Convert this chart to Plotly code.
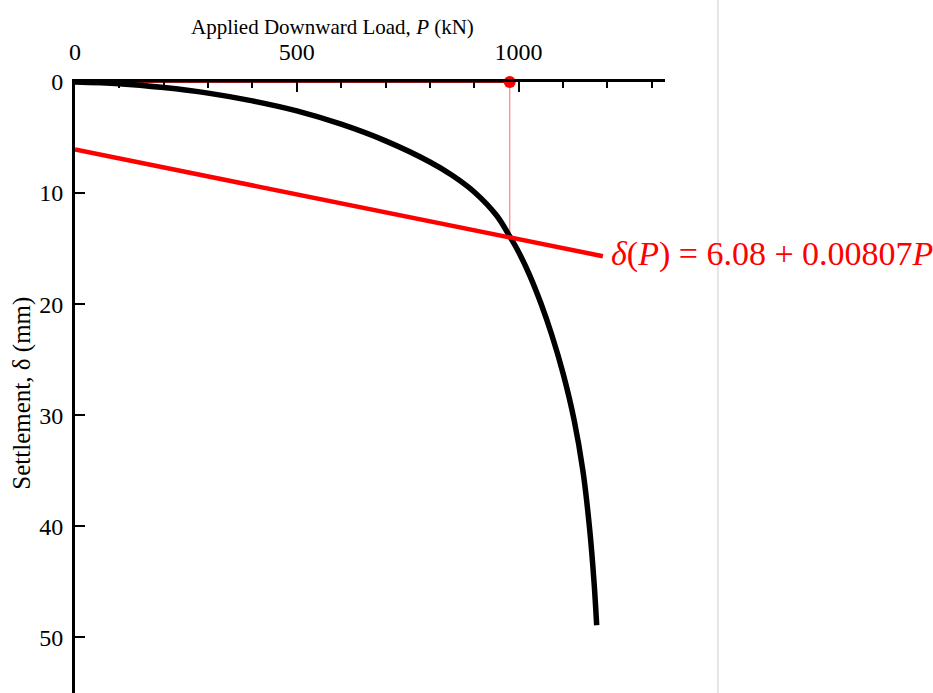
import plotly.graph_objects as go

# Load-settlement curve
load_kN = [0, 100, 200, 300, 400, 500, 600, 700, 800, 850, 900, 950, 980, 1000, 1025, 1050, 1075, 1100, 1125, 1145, 1160, 1170, 1176]
settlement_mm = [0, 0.15, 0.5, 1.0, 1.7, 2.6, 3.8, 5.3, 7.2, 8.4, 9.9, 12.0, 13.9, 15.3, 17.4, 19.9, 22.8, 26.2, 30.4, 35.0, 40.2, 45.0, 48.9]

# Fitted line delta(P) = 6.08 + 0.00807 P
fit_intercept = 6.08
fit_slope = 0.00807
fit_load = [0, 1190]
fit_settlement = [fit_intercept + fit_slope * p for p in fit_load]

# Marked load
marked_load = 980
marked_settlement = fit_intercept + fit_slope * marked_load

x_ticks = [0, 500, 1000]
y_ticks = [0, 10, 20, 30, 40, 50]

serif = "Liberation Serif"

fig = go.Figure()

# dark red line along top axis up to the marked load
fig.add_trace(go.Scatter(x=[0, marked_load], y=[0, 0], mode="lines",
                         line=dict(color="#8b1a1a", width=2), hoverinfo="skip",
                         cliponaxis=False))
# vertical thin red line
fig.add_trace(go.Scatter(x=[marked_load, marked_load], y=[0, marked_settlement], mode="lines",
                         line=dict(color="#ff8080", width=1.2), hoverinfo="skip"))
# load-settlement curve
fig.add_trace(go.Scatter(x=load_kN, y=settlement_mm, mode="lines",
                         line=dict(color="black", width=5.5, shape="spline", smoothing=1)))
# fitted red line
fig.add_trace(go.Scatter(x=fit_load, y=fit_settlement, mode="lines",
                         line=dict(color="#ff0000", width=4.5), cliponaxis=False))
# red dot
fig.add_trace(go.Scatter(x=[marked_load], y=[0], mode="markers",
                         marker=dict(color="#ff0000", size=12), cliponaxis=False))

fig.add_annotation(x=1203, y=fit_intercept + fit_slope * 1203, xref="x", yref="y",
                   text="<i>δ</i>(<i>P</i>) = 6.08 + 0.00807<i>P</i>",
                   showarrow=False, xanchor="left", yanchor="middle", yshift=3,
                   font=dict(family=serif, size=34, color="#ff0000"))

# axis titles
fig.add_annotation(x=0.437, y=1.09, xref="paper", yref="paper",
                   text="Applied Downward Load, <i>P</i> (kN)", showarrow=False,
                   xanchor="center", yanchor="middle",
                   font=dict(family=serif, size=21, color="black"))
fig.add_annotation(x=-0.0898, y=0.49, xref="paper", yref="paper",
                   text="Settlement, δ (mm)", showarrow=False, textangle=-90,
                   xanchor="center", yanchor="middle",
                   font=dict(family=serif, size=25, color="black"))

# page border line at right
fig.add_shape(type="line", xref="paper", yref="paper", x0=1.0898, x1=1.0898, y0=-0.01, y1=1.2,
              line=dict(color="#cccccc", width=1))

fig.update_layout(
    width=933, height=693,
    margin=dict(l=75, r=268, t=82, b=0),
    plot_bgcolor="white", paper_bgcolor="white",
    showlegend=False,
    font=dict(family=serif, color="black"),
)
fig.update_xaxes(
    side="top", range=[0, 1330], tickvals=x_ticks, ticktext=[str(v) for v in x_ticks],
    showline=True, linecolor="black", linewidth=3, mirror=False,
    ticks="inside", ticklen=10, tickwidth=2, tickcolor="black",
    minor=dict(dtick=100, tick0=0, ticks="inside", ticklen=6, tickwidth=1.5, tickcolor="black", showgrid=False),
    showgrid=False, zeroline=False, ticklabelstandoff=9,
    tickfont=dict(family=serif, size=24, color="black"),
)
fig.update_yaxes(
    range=[55, 0], tickvals=y_ticks, ticktext=[str(v) for v in y_ticks],
    showline=True, linecolor="black", linewidth=3, mirror=False,
    ticks="inside", ticklen=10, tickwidth=2, tickcolor="black",
    showgrid=False, zeroline=False, ticklabelstandoff=4,
    tickfont=dict(family=serif, size=24, color="black"),
)

fig.write_html("out.html")
